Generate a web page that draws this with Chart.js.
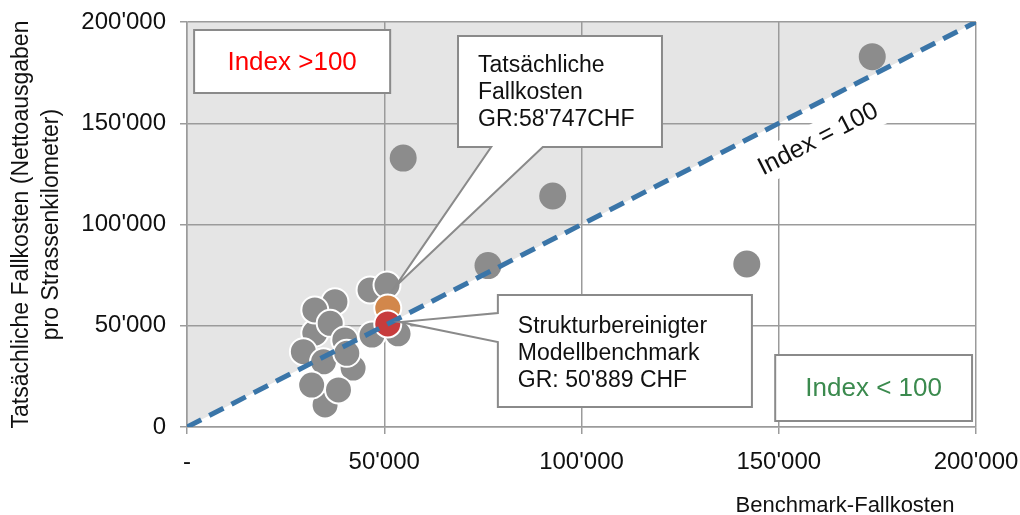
<!DOCTYPE html>
<html>
<head>
<meta charset="utf-8">
<script src="https://cdn.jsdelivr.net/npm/chart.js@4"></script>
<style>
  body { margin: 0; background: #fff; }
</style>
</head>
<body>
<canvas id="fallkostenChart" width="1020" height="515"></canvas>
<script>
// Benchmark-Fallkosten (x) vs. tatsächliche Fallkosten (y) of the other communes
const benchmarkCosts = [
    32400, 37500, 32400, 36300, 40000, 29500, 34600, 42100, 40500, 35000, 38400, 31600,
    46400, 50700, 46900, 53500,
    54800, 92700, 76300, 173700, 141900
];
const actualCosts = [
    46400, 61900, 57800, 51200, 43000, 37200, 32200, 29100, 36400, 10900, 18300, 20700,
    67700, 70100, 45400, 46000,
    132800, 114100, 79700, 182900, 80500
];

// GR: structure-adjusted benchmark and actual cost
const grBenchmark = [50889];
const grActual = [58747];

const axisMax = 200000;
const xTickLabels = ['-', "50'000", "100'000", "150'000", "200'000"];
const yTickLabels = ['0', "50'000", "100'000", "150'000", "200'000"];

const FONT = '"Liberation Sans", Arial, sans-serif';
const GRID = '#9b9b9b';

function callout(ctx, pts) {
    ctx.beginPath();
    ctx.moveTo(pts[0][0], pts[0][1]);
    pts.slice(1).forEach(p => ctx.lineTo(p[0], p[1]));
    ctx.closePath();
    ctx.fillStyle = '#fff';
    ctx.fill();
    ctx.strokeStyle = '#8a8a8a';
    ctx.lineWidth = 2;
    ctx.stroke();
}

const decorPlugin = {
    id: 'decor',
    beforeDraw(chart) {
        const { ctx, scales: { x, y } } = chart;
        // grey triangle above the diagonal (Index > 100)
        ctx.save();
        ctx.fillStyle = '#e5e5e5';
        ctx.beginPath();
        ctx.moveTo(x.getPixelForValue(0), y.getPixelForValue(0));
        ctx.lineTo(x.getPixelForValue(0), y.getPixelForValue(axisMax));
        ctx.lineTo(x.getPixelForValue(axisMax), y.getPixelForValue(axisMax));
        ctx.closePath();
        ctx.fill();
        ctx.restore();
    },
    beforeDatasetsDraw(chart) {
        const { ctx, scales: { x, y } } = chart;
        const ang = Math.atan2(y.getPixelForValue(axisMax) - y.getPixelForValue(0),
                               x.getPixelForValue(axisMax) - x.getPixelForValue(0));
        ctx.save();
        ctx.translate(x.getPixelForValue(160000), y.getPixelForValue(142000));
        ctx.rotate(ang);
        ctx.font = '25px ' + FONT;
        const txt = 'Index = 100';
        const w = ctx.measureText(txt).width;
        ctx.fillStyle = '#fff';
        ctx.fillRect(-w / 2 - 6, -17, w + 12, 34);
        ctx.fillStyle = '#111';
        ctx.textAlign = 'center';
        ctx.textBaseline = 'middle';
        ctx.fillText(txt, 0, 0);
        ctx.restore();
    },
    afterDatasetsDraw(chart) {
        const { ctx, scales: { x, y } } = chart;
        const px = v => x.getPixelForValue(v);
        const py = v => y.getPixelForValue(v);
        ctx.save();

        // Index > 100 box
        let l = px(1800), r = px(51500), t = py(196000), b = py(164900);
        callout(ctx, [[l, t], [r, t], [r, b], [l, b]]);
        ctx.font = '26px ' + FONT;
        ctx.fillStyle = '#ff0000';
        ctx.textAlign = 'center';
        ctx.textBaseline = 'middle';
        ctx.fillText('Index >100', (l + r) / 2, (t + b) / 2 + 1);

        // Index < 100 box
        l = px(149100); r = px(199000); t = py(35600); b = py(3000);
        callout(ctx, [[l, t], [r, t], [r, b], [l, b]]);
        ctx.fillStyle = '#3b8a4e';
        ctx.fillText('Index < 100', (l + r) / 2, (t + b) / 2 + 1);

        // callout: actual cost GR
        l = px(68700); r = px(120400); t = py(193100); b = py(138300);
        callout(ctx, [[l, t], [r, t], [r, b], [px(90200), b],
                      [px(52700), py(69100)], [px(77100), b], [l, b]]);
        ctx.font = '23px ' + FONT;
        ctx.fillStyle = '#111';
        ctx.textAlign = 'left';
        ctx.textBaseline = 'alphabetic';
        ['Tatsächliche', 'Fallkosten', "GR:58'747CHF"].forEach((s, i) => {
            ctx.fillText(s, l + 20, t + 36 + i * 27);
        });

        // callout: benchmark GR
        l = px(78800); r = px(143200); t = py(65200); b = py(9900);
        callout(ctx, [[l, t], [r, t], [r, b], [l, b], [l, py(42000)],
                      [px(54000), py(51800)], [l, py(56300)]]);
        ctx.fillStyle = '#111';
        ['Strukturbereinigter', 'Modellbenchmark', "GR: 50'889 CHF"].forEach((s, i) => {
            ctx.fillText(s, l + 20, t + 38 + i * 27);
        });

        ctx.restore();
    },
    afterDraw(chart) {
        const { ctx, scales: { x } } = chart;
        ctx.save();
        ctx.font = '22px ' + FONT;
        ctx.fillStyle = '#111';
        ctx.textAlign = 'center';
        ctx.textBaseline = 'middle';
        ctx.fillText('Benchmark-Fallkosten', x.getPixelForValue(166800), chart.height - 9);
        ctx.restore();
    }
};

const ctx = document.getElementById('fallkostenChart').getContext('2d');
new Chart(ctx, {
    type: 'scatter',
    data: {
        datasets: [
            {
                type: 'line',
                label: 'Index = 100',
                data: [{ x: 0, y: 0 }, { x: axisMax, y: axisMax }],
                borderColor: '#3a75a8',
                borderWidth: 5,
                borderDash: [16, 9],
                pointRadius: 0,
                fill: false
            },
            {
                label: 'GR Benchmark',
                data: grBenchmark.map(v => ({ x: v, y: v })),
                pointBackgroundColor: '#c73c3d',
                pointBorderColor: '#fff',
                pointBorderWidth: 2,
                pointRadius: 13.5
            },
            {
                label: 'GR tatsächlich',
                data: grBenchmark.map((v, i) => ({ x: v, y: grActual[i] })),
                pointBackgroundColor: '#d2874b',
                pointBorderColor: '#fff',
                pointBorderWidth: 2,
                pointRadius: 13.5
            },
            {
                label: 'Gemeinden',
                data: benchmarkCosts.map((v, i) => ({ x: v, y: actualCosts[i] })),
                pointBackgroundColor: '#8c8c8c',
                pointBorderColor: '#fff',
                pointBorderWidth: c => (c.raw && c.raw.x < 60000 && c.raw.y < 100000) ? 2 : 0,
                pointRadius: c => (c.raw && c.raw.x < 60000 && c.raw.y < 100000) ? 13.5 : 13.5
            }
        ]
    },
    options: {
        responsive: false,
        animation: false,
        layout: { padding: { top: 22, right: 44, bottom: 0, left: 0 } },
        plugins: {
            legend: { display: false },
            tooltip: { enabled: false }
        },
        scales: {
            x: {
                type: 'linear',
                min: 0,
                max: axisMax,
                afterFit: s => { s.height = 88; s.paddingLeft = 0; s.paddingRight = 0; },
                ticks: {
                    stepSize: 50000,
                    padding: 14,
                    color: '#111',
                    font: { family: FONT, size: 24 },
                    callback: (v, i) => xTickLabels[i]
                },
                grid: { color: GRID, lineWidth: 1.5, tickLength: 7, tickColor: GRID },
                border: { color: GRID, width: 1.5 }
            },
            y: {
                type: 'linear',
                min: 0,
                max: axisMax,
                afterFit: s => { s.width = 187; s.paddingTop = 0; s.paddingBottom = 0; },
                ticks: {
                    stepSize: 50000,
                    padding: 14,
                    color: '#111',
                    font: { family: FONT, size: 24 },
                    callback: (v, i) => yTickLabels[i]
                },
                grid: { color: GRID, lineWidth: 1.5, tickLength: 7, tickColor: GRID },
                border: { color: GRID, width: 1.5 },
                title: {
                    display: true,
                    text: ['Tatsächliche Fallkosten (Nettoausgaben', 'pro Strassenkilometer)'],
                    color: '#111',
                    font: { family: FONT, size: 23, lineHeight: 1.28 },
                    padding: { top: 7, bottom: 0 }
                }
            }
        }
    },
    plugins: [decorPlugin]
});
</script>
</body>
</html>
